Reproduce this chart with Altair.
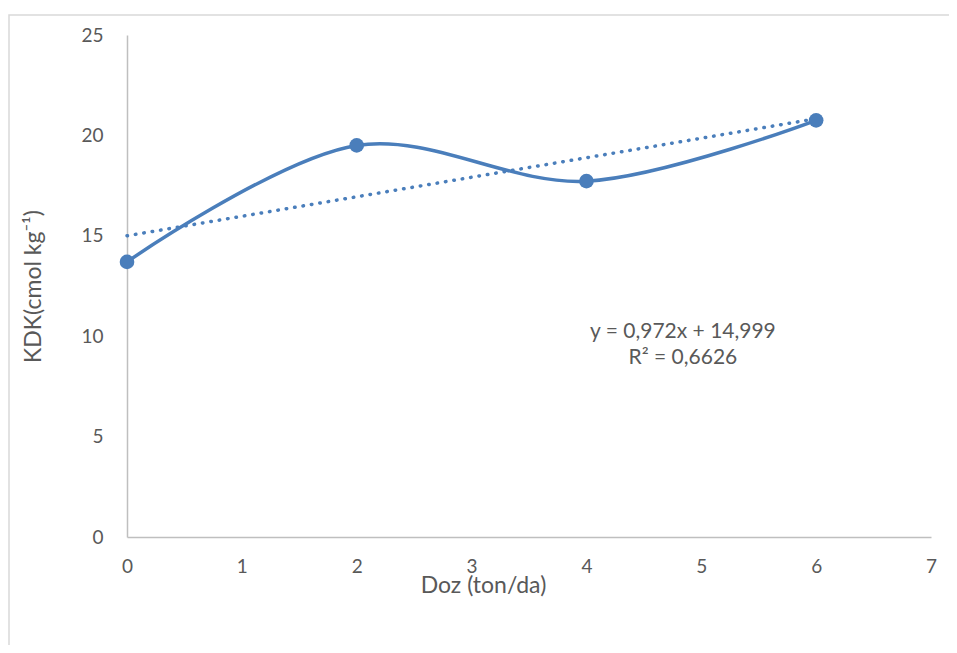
import altair as alt
import pandas as pd

# data
doz = [0, 2, 4, 6]
kdk = [13.7, 19.5, 17.72, 20.75]

trend_x = [0, 6]
trend_y = [14.999, 0.972 * 6 + 14.999]

eq_lines = ["y = 0,972x + 14,999", "R\u00b2 = 0,6626"]
eq_x = [4.84, 4.84]
eq_y = [10.2, 8.9]

x_ticks = [0, 1, 2, 3, 4, 5, 6, 7]
y_ticks = [0, 5, 10, 15, 20, 25]

BLUE = "#4a7ebb"
GREY = "#595959"
FONT = "Lato"

df = pd.DataFrame({"x": doz, "y": kdk})
tdf = pd.DataFrame({"x": trend_x, "y": trend_y})
edf = pd.DataFrame({"x": eq_x, "y": eq_y, "t": eq_lines})

xs = alt.Scale(domain=[0, 7], nice=False, zero=False)
ys = alt.Scale(domain=[0, 25], nice=False)

xaxis = alt.Axis(values=x_ticks, format="d", grid=False, ticks=False, domainColor="#bfbfbf",
                 domainWidth=1.5, labelColor=GREY, labelFontSize=19, labelFont=FONT,
                 labelPadding=20, title="Doz (ton/da)", titleFont=FONT, titleFontSize=23,
                 titleFontWeight="normal", titleColor=GREY, titleX=356, titleY=37,
                 titleAlign="center", titleBaseline="top", labelFlush=False)
yaxis = alt.Axis(values=y_ticks, format="d", grid=False, ticks=False, domainColor="#bfbfbf",
                 domainWidth=1.5, labelColor=GREY, labelFontSize=19, labelFont=FONT,
                 labelPadding=24, title="KDK(cmol kg\u207b\u00b9)", titleFont=FONT,
                 titleFontSize=23, titleFontWeight="normal", titleColor=GREY,
                 titleX=-94, titleY=251, titleAngle=-90, titleAlign="center",
                 titleBaseline="middle")

frame = alt.Chart(pd.DataFrame({"a": [0]})).mark_rect(
    fill=None, stroke="#d9d9d9", strokeWidth=1.5
).encode(x=alt.value(-118), x2=alt.value(840), y=alt.value(-20), y2=alt.value(640))

trend = alt.Chart(tdf).mark_line(color=BLUE, strokeWidth=3.5, strokeDash=[0.5, 8],
                                 strokeCap="round").encode(
    x=alt.X("x:Q", scale=xs, axis=xaxis), y=alt.Y("y:Q", scale=ys, axis=yaxis))

line = alt.Chart(df).mark_line(color=BLUE, strokeWidth=3.5, interpolate="catmull-rom").encode(
    x=alt.X("x:Q", scale=xs), y=alt.Y("y:Q", scale=ys))

pts = alt.Chart(df).mark_point(filled=True, size=215, color=BLUE, opacity=1).encode(
    x=alt.X("x:Q", scale=xs), y=alt.Y("y:Q", scale=ys))

txt = alt.Chart(edf).mark_text(fontSize=21, font=FONT, color=GREY, align="center",
                               baseline="middle").encode(
    x=alt.X("x:Q", scale=xs), y=alt.Y("y:Q", scale=ys), text="t:N")

chart = alt.layer(frame, trend, line, pts, txt).properties(
    width=804, height=502,
    autosize=alt.AutoSizeParams(type="none"),
    padding={"left": 119, "top": 27, "right": 18, "bottom": 108},
    background="white",
).configure_view(stroke=None)

chart.save("out.html", embed_options={"renderer": "svg", "actions": False})
